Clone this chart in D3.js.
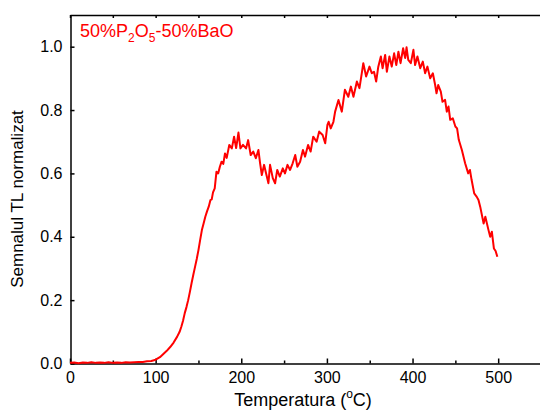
<!DOCTYPE html>
<html><head><meta charset="utf-8">
<script src="https://cdn.jsdelivr.net/npm/d3@7"></script>
<style>body{margin:0;background:#fff}svg{display:block}text{font-family:"Liberation Sans",Arial,sans-serif}</style>
</head><body><svg id="c" width="540" height="412"></svg>
<script>
const temperature = [0,5,10,15,20,25,30,35,40,45,50,55,60,65,70,75,80,85,90,95,100,105,109,113,117,121,125,128,130,132,134,136,138,140,142,144,146,148,150,152,154,156,158,160,162,164,165.5,167,169,171,173,175,177,179,181,183,186,189,191.6,194,196.7,199,202,205.6,208,211,214,217,220,222,224,226.6,229,231.7,233.6,236.8,239.5,242,245,248.5,251,254,257,260,263,265.5,268.7,272,274.5,278,281,284,288,291,295,298,300.6,302,304.5,307.6,309.6,313.5,317.4,321,325,328,331,335,338,340.7,342.5,345.8,349.7,352.4,355,357.5,360,363,365,368,370,373,375.7,378.5,381,383.5,386,389,391.4,393,395,398,401,403,405.7,409,412,414.7,417.4,420.6,423.7,426.4,428,430,433,435,438,440,442,444,447,450,452,454,457.6,461.4,465,467,469,472,475,477,479,483,485,488.7,490.7,492.6,495,497,499];
const signal = [0.002,0.003,0.001,0.003,0.002,0.004,0.002,0.003,0.002,0.004,0.002,0.003,0.002,0.004,0.003,0.004,0.005,0.005,0.007,0.008,0.012,0.02,0.03,0.04,0.052,0.066,0.084,0.1,0.116,0.135,0.159,0.178,0.2,0.226,0.254,0.28,0.305,0.33,0.358,0.39,0.421,0.442,0.463,0.48,0.495,0.516,0.518,0.54,0.553,0.605,0.6,0.621,0.637,0.63,0.663,0.649,0.69,0.679,0.716,0.68,0.729,0.679,0.69,0.679,0.705,0.658,0.669,0.648,0.674,0.632,0.595,0.627,0.6,0.569,0.627,0.585,0.569,0.611,0.59,0.616,0.6,0.627,0.611,0.632,0.658,0.621,0.637,0.674,0.653,0.69,0.669,0.716,0.7,0.732,0.721,0.695,0.753,0.763,0.742,0.763,0.795,0.832,0.795,0.864,0.842,0.874,0.842,0.89,0.869,0.916,0.948,0.906,0.937,0.916,0.921,0.89,0.937,0.969,0.932,0.974,0.921,0.969,0.937,0.979,0.942,0.984,0.948,0.995,0.964,0.998,0.958,0.948,0.99,0.942,0.969,0.932,0.953,0.916,0.937,0.9,0.916,0.879,0.853,0.879,0.858,0.826,0.832,0.795,0.811,0.769,0.774,0.748,0.742,0.706,0.674,0.632,0.6,0.611,0.579,0.537,0.526,0.516,0.495,0.442,0.463,0.421,0.4,0.416,0.363,0.355,0.337];
const xTicks = [0,100,200,300,400,500];
const xMinor = [0,50,100,150,200,250,300,350,400,450,500,550];
const yTicks = [0,0.2,0.4,0.6,0.8,1.0];

const svg = d3.select("#c");
const x = d3.scaleLinear().domain([0,550]).range([70,541]);
const y = d3.scaleLinear().domain([0,1.1]).range([363.5,15]);

// bottom axis
const gb = svg.append("g").attr("transform","translate(0,363.5)")
  .call(d3.axisBottom(x).tickValues(xTicks).tickSizeInner(-5).tickSizeOuter(0).tickPadding(8).tickFormat(d3.format("d")));
gb.selectAll("text").attr("font-size",16).attr("fill","#000");
svg.append("g").attr("transform","translate(0,363.5)")
  .call(d3.axisBottom(x).tickValues(xMinor.filter(v=>v%100)).tickSizeInner(-3).tickSizeOuter(0).tickFormat(""))
  .select(".domain").remove();
// top axis
svg.append("g").attr("transform","translate(0,15)")
  .call(d3.axisTop(x).tickValues(xMinor).tickSizeInner(-3).tickSizeOuter(0).tickFormat(""));
// left axis
const gl = svg.append("g").attr("transform","translate(70.5,0)")
  .call(d3.axisLeft(y).tickValues(yTicks).tickSizeInner(-4).tickSizeOuter(0).tickPadding(8).tickFormat(d3.format(".1f")));
gl.selectAll("text").attr("font-size",16).attr("fill","#000");
svg.selectAll(".domain, .tick line").attr("stroke","#000").attr("stroke-width",1.5);

// curve
const line = d3.line().x((d,i)=>x(temperature[i])).y(d=>y(d));
svg.append("path").datum(signal).attr("d",line).attr("fill","none").attr("stroke","#ff0000").attr("stroke-width",2).attr("stroke-linejoin","round");

// label
const lab = svg.append("text").attr("x",80).attr("y",37).attr("font-size",18).attr("fill","#ff0000");
lab.append("tspan").text("50%P");
lab.append("tspan").attr("font-size",12).attr("dy",5).text("2");
lab.append("tspan").attr("dy",-5).text("O");
lab.append("tspan").attr("font-size",12).attr("dy",5).text("5");
lab.append("tspan").attr("dy",-5).text("-50%BaO");

// axis titles
const xt = svg.append("text").attr("x",303).attr("y",406).attr("text-anchor","middle").attr("font-size",18).attr("fill","#000");
xt.append("tspan").text("Temperatura (");
xt.append("tspan").attr("font-size",12).attr("dy",-8).text("o");
xt.append("tspan").attr("dy",8).text("C)");
svg.append("text").attr("transform","translate(23,199) rotate(-90)").attr("text-anchor","middle").attr("font-size",17).attr("fill","#000").text("Semnalul TL normalizat");
</script></body></html>
